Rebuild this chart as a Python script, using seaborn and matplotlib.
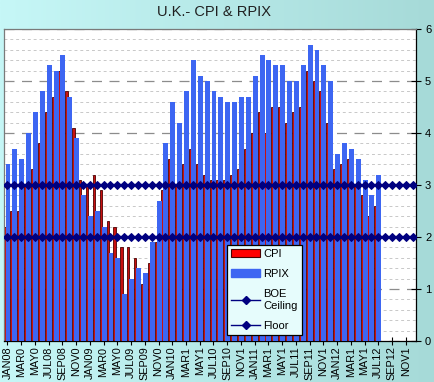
import numpy as np
import pandas as pd
import matplotlib
matplotlib.use("Agg")
import matplotlib.pyplot as plt
import seaborn as sns
from matplotlib.patches import Patch
from matplotlib.lines import Line2D

# x axis: JAN08 .. DEC12, labels every second month (as printed, truncated)
n_months = 60
tick_labels = ["JAN08", "MAR0", "MAY0", "JUL08", "SEP08", "NOV0",
               "JAN09", "MAR0", "MAY0", "JUL09", "SEP09", "NOV0",
               "JAN10", "MAR1", "MAY1", "JUL10", "SEP10", "NOV1",
               "JAN11", "MAR1", "MAY1", "JUL11", "SEP11", "NOV1",
               "JAN12", "MAR1", "MAY1", "JUL12", "SEP12", "NOV1"]

# annual % change, JAN08 .. JUL12
cpi = [2.2, 2.5, 2.5, 3.0, 3.3, 3.8, 4.4, 4.7, 5.2, 4.8, 4.1, 3.1,
       3.0, 3.2, 2.9, 2.3, 2.2, 1.8, 1.8, 1.6, 1.1, 1.5, 1.9, 2.9,
       3.5, 3.0, 3.4, 3.7, 3.4, 3.2, 3.1, 3.1, 3.1, 3.2, 3.3, 3.7,
       4.0, 4.4, 4.0, 4.5, 4.5, 4.2, 4.4, 4.5, 5.2, 5.0, 4.8, 4.2,
       3.3, 3.4, 3.5, 3.0, 2.8, 2.4, 2.6]
rpix = [3.4, 3.7, 3.5, 4.0, 4.4, 4.8, 5.3, 5.2, 5.5, 4.7, 3.9, 2.8,
        2.4, 2.5, 2.2, 1.7, 1.6, 0.9, 1.2, 1.4, 1.3, 1.9, 2.7, 3.8,
        4.6, 4.2, 4.8, 5.4, 5.1, 5.0, 4.8, 4.7, 4.6, 4.6, 4.7, 4.7,
        5.1, 5.5, 5.4, 5.3, 5.3, 5.0, 5.0, 5.3, 5.7, 5.6, 5.3, 5.0,
        3.6, 3.8, 3.7, 3.5, 3.1, 2.8, 3.2]
boe_ceiling = 3.0
boe_floor = 2.0

blue = "#3d66f2"
navy = "#000080"

idx = np.arange(len(cpi))
df = pd.DataFrame({"month": idx, "cpi": cpi, "rpix": rpix})
df["cpi_pos"] = df["month"] - 0.40
df["rpix_pos"] = df["month"] + 0.08

all_months = np.arange(n_months)
lines = pd.DataFrame({"month": all_months,
                      "ceiling": np.full(n_months, boe_ceiling),
                      "floor": np.full(n_months, boe_floor)})

fig = plt.figure(figsize=(4.34, 3.82), dpi=100)

# light cyan gradient behind everything
bg = fig.add_axes([0, 0, 1, 1], zorder=-5)
c0 = np.array([198, 247, 247]) / 255
c1 = np.array([166, 218, 216]) / 255
t = np.linspace(0, 1, 200)
grad = c0[None, :] * (1 - t[:, None]) + c1[None, :] * t[:, None]
bg.imshow(grad[None, :, :], aspect="auto", extent=[0, 1, 0, 1])
bg.set_axis_off()

ax = fig.add_axes([4 / 434, 41 / 382, 412 / 434, 312 / 382])
ax.set_facecolor("white")

sns.barplot(data=df, x="cpi_pos", y="cpi", native_scale=True, width=0.34,
            color="#c81010", edgecolor="#4a0000", linewidth=0.6,
            saturation=1, errorbar=None, ax=ax, zorder=2)
sns.barplot(data=df, x="rpix_pos", y="rpix", native_scale=True, width=0.72,
            color=blue, linewidth=0, saturation=1, errorbar=None, ax=ax, zorder=3)

for col in ["ceiling", "floor"]:
    sns.lineplot(data=lines, x="month", y=col, color=navy, linewidth=1.6,
                 marker="D", markersize=4.2, markeredgecolor=navy, ax=ax, zorder=4)

ax.set_xlim(-0.5, n_months - 0.5)
ax.set_ylim(0, 6)
ax.set_xlabel("")
ax.set_ylabel("")

ax.set_xticks(np.arange(0, n_months, 2))
ax.set_xticklabels(tick_labels, rotation=90, fontsize=7.8, family="Liberation Sans")
ax.tick_params(axis="x", direction="inout", length=6, width=0.8, pad=1, color="black")

ax.yaxis.tick_right()
ax.set_yticks(range(0, 7))
ax.set_yticklabels([str(v) for v in range(0, 7)], fontsize=8, family="Liberation Sans")
ax.set_yticks(np.arange(0, 6.01, 0.2), minor=True)
ax.tick_params(axis="y", which="major", direction="inout", length=7, width=0.8, pad=3)
ax.tick_params(axis="y", which="minor", length=0)

ax.set_axisbelow(True)
ax.grid(axis="y", which="major", color="#8c8c8c", linestyle=(0, (8, 6)), linewidth=0.9)
ax.grid(axis="y", which="minor", color="#c8c8c8", linestyle=(0, (3, 3)), linewidth=0.7)
ax.grid(axis="x", visible=False)

for s in ["left", "top"]:
    ax.spines[s].set_color("#7a7a7a")
for s in ["right", "bottom"]:
    ax.spines[s].set_color("black")
for s in ax.spines.values():
    s.set_linewidth(0.9)

fig.text(0.494, 0.968, "U.K.- CPI & RPIX", ha="center", va="center",
         fontsize=10.5, family="Liberation Sans", color="#202020")

handles = [
    Patch(facecolor="#ff0000", edgecolor="#4a0000", linewidth=0.8),
    Patch(facecolor=blue, edgecolor=blue),
    Line2D([], [], color=navy, linewidth=1, marker="D", markersize=4),
    Line2D([], [], color=navy, linewidth=1, marker="D", markersize=4),
]
labels = ["CPI", "RPIX", "BOE\nCeiling", "Floor"]
leg = ax.legend(handles, labels, loc="lower left", bbox_to_anchor=(0.541, 0.019),
                borderaxespad=0, frameon=True, fancybox=False, framealpha=1,
                facecolor="#e6fcfc", edgecolor="black", handlelength=2.6,
                handletextpad=0.3, labelspacing=0.9,
                prop={"family": "Liberation Sans", "size": 8})
leg.get_frame().set_linewidth(0.9)

fig.savefig("out.png", dpi=100)
